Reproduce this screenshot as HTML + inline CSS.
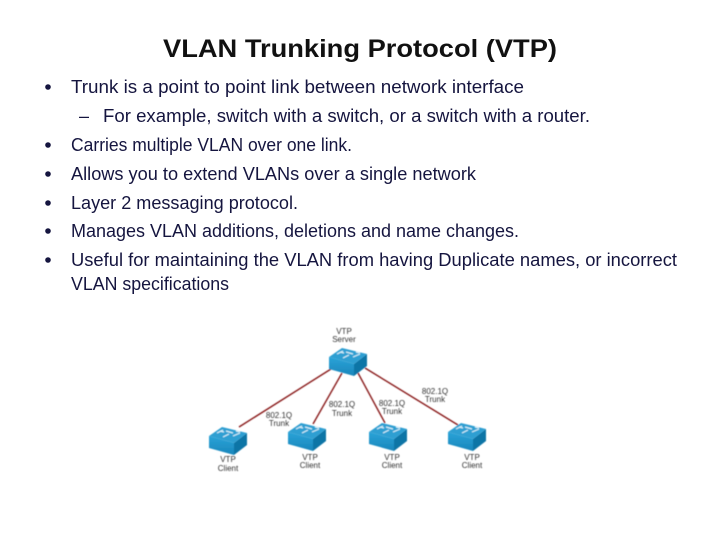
<!DOCTYPE html>
<html><head><meta charset="utf-8"><style>
html,body{margin:0;padding:0;background:#fff;width:720px;height:540px;overflow:hidden}
svg{display:block}
.t{font-family:"Liberation Sans",sans-serif;font-size:18px;fill:#15153f}
.d{font-family:"Liberation Sans",sans-serif;font-size:8px;fill:#333;text-anchor:middle}
</style></head><body>
<svg width="720" height="540" viewBox="0 0 720 540" xmlns="http://www.w3.org/2000/svg">
<defs>
<linearGradient id="fr" x1="0" y1="0" x2="0" y2="1"><stop offset="0" stop-color="#2aa3d8"/><stop offset="1" stop-color="#1a86bb"/></linearGradient>
<g id="sw">
<polygon points="0,0 25,7 25,19 0,12" fill="url(#fr)"/>
<polygon points="25,7 38,-3 38,9 25,19" fill="#0f74a6"/>
<polygon points="0,0 13,-9 38,-3 25,7" fill="#2f9fd2"/>
<path d="M8,-3 L14,-6 M17,-5 L24,-3 M14,1 L20,-2 M24,0 L31,-3 M27,-5 L31,-4 M11,-5 L15,-4" stroke="#d5eef8" stroke-width="1.2" fill="none"/>
</g>
<filter id="b" x="-5%" y="-5%" width="110%" height="110%"><feGaussianBlur stdDeviation="0.4"/></filter>
</defs>
<text x="163" y="57" font-family="Liberation Sans,sans-serif" font-size="25px" font-weight="700" fill="#111" textLength="394" lengthAdjust="spacingAndGlyphs">VLAN Trunking Protocol (VTP)</text>

<g fill="#15153f">
<circle cx="48" cy="87" r="2.8"/>
<circle cx="48" cy="145" r="2.8"/>
<circle cx="48" cy="174" r="2.8"/>
<circle cx="48" cy="203" r="2.8"/>
<circle cx="48" cy="231" r="2.8"/>
<circle cx="48" cy="260" r="2.8"/>
</g>
<text class="t" x="71" y="93" textLength="453" lengthAdjust="spacingAndGlyphs">Trunk is a point to point link between network interface</text>
<text class="t" x="79" y="122">–</text>
<text class="t" x="103" y="122" textLength="487" lengthAdjust="spacingAndGlyphs">For example, switch with a switch, or a switch with a router.</text>
<text class="t" x="71" y="151" textLength="281" lengthAdjust="spacingAndGlyphs">Carries multiple VLAN over one link.</text>
<text class="t" x="71" y="180" textLength="405" lengthAdjust="spacingAndGlyphs">Allows you to extend VLANs over a single network</text>
<text class="t" x="71" y="209" textLength="227" lengthAdjust="spacingAndGlyphs">Layer 2 messaging protocol.</text>
<text class="t" x="71" y="237" textLength="448" lengthAdjust="spacingAndGlyphs">Manages VLAN additions, deletions and name changes.</text>
<text class="t" x="71" y="266" textLength="606" lengthAdjust="spacingAndGlyphs">Useful for maintaining the VLAN from having Duplicate names, or incorrect</text>
<text class="t" x="71" y="290" textLength="158" lengthAdjust="spacingAndGlyphs">VLAN specifications</text>

<g filter="url(#b)">
<g stroke="#8a1f1f" stroke-width="1.4" fill="none">
<line x1="331" y1="369" x2="239" y2="427"/>
<line x1="342" y1="373" x2="313" y2="424"/>
<line x1="358" y1="373" x2="385" y2="423"/>
<line x1="365" y1="368" x2="458" y2="425"/>
</g>
<use href="#sw" x="329" y="357"/>
<use href="#sw" x="209" y="436"/>
<use href="#sw" x="288" y="432"/>
<use href="#sw" x="369" y="432"/>
<use href="#sw" x="448" y="432"/>
<text class="d" x="344" y="334">VTP</text><text class="d" x="344" y="342">Server</text>
<text class="d" x="228" y="462">VTP</text><text class="d" x="228" y="471">Client</text>
<text class="d" x="310" y="460">VTP</text><text class="d" x="310" y="468">Client</text>
<text class="d" x="392" y="460">VTP</text><text class="d" x="392" y="468">Client</text>
<text class="d" x="472" y="460">VTP</text><text class="d" x="472" y="468">Client</text>
<text class="d" x="279" y="418">802.1Q</text><text class="d" x="279" y="426">Trunk</text>
<text class="d" x="342" y="407">802.1Q</text><text class="d" x="342" y="416">Trunk</text>
<text class="d" x="392" y="406">802.1Q</text><text class="d" x="392" y="414">Trunk</text>
<text class="d" x="435" y="394">802.1Q</text><text class="d" x="435" y="402">Trunk</text>
</g>
</svg>
</body></html>
